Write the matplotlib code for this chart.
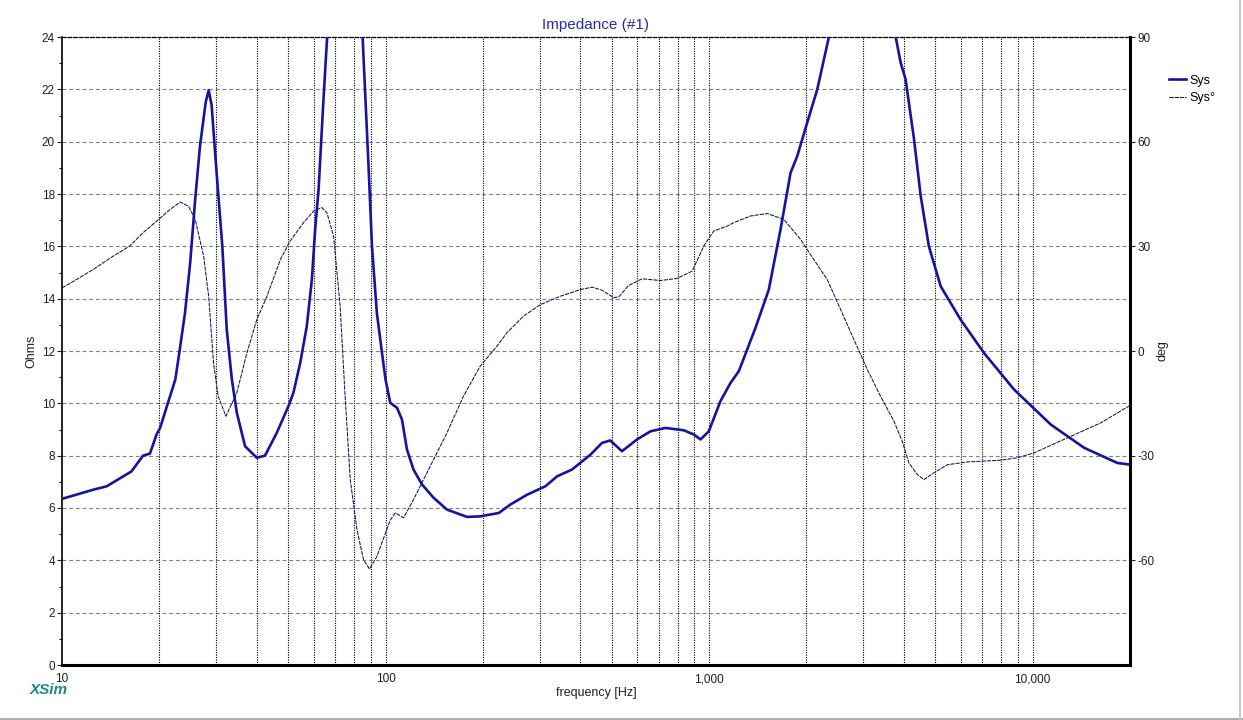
import matplotlib
matplotlib.use("Agg")
import matplotlib.pyplot as plt
from matplotlib.ticker import FixedLocator, NullFormatter, MultipleLocator
from matplotlib.lines import Line2D

plt.rcParams['font.family'] = ['Liberation Sans', 'DejaVu Sans']
plt.rcParams['axes.unicode_minus'] = False

# ---- data ----
imp_freq = [10, 12.5, 13.75, 14.9, 16.4, 17.8, 18.7, 19.6, 20.1, 21.1, 22.4, 23.2, 24.0, 24.9,
            25.8, 26.7, 27.8, 28.4, 29.0, 30.1, 31.3, 32.3, 33.5, 34.7, 36.8, 40, 42.4, 46.1, 50.1, 51.9,
            54.5, 57.1, 59.2, 60.6, 62.1, 64.3, 66, 69, 72, 75, 78, 82, 85.3, 88.6, 90.8, 94,
            97.5, 100, 103.4, 108.5, 112.4, 116.5, 122, 129.6, 140.8, 154.8, 178.6, 196, 224,
            243, 274, 312, 339, 377, 430, 467, 495, 538, 599, 659, 733, 835, 897, 941, 998,
            1084, 1165, 1236, 1392, 1530, 1663, 1786, 1873, 2011, 2160, 2346, 2600, 2900, 3300,
            3640, 3910, 4050, 4300, 4510, 4780, 5200, 5990, 7070, 8760, 11380, 14430, 18290, 20000]
imp_ohms = [6.35, 6.70, 6.83, 7.09, 7.40, 8.0, 8.08, 8.81, 9.06, 9.89, 10.91, 12.18, 13.46, 15.37,
            17.79, 19.83, 21.5, 21.97, 21.4, 18.7, 16.0, 12.82, 10.91, 9.64, 8.36, 7.92, 8.0, 8.87, 9.89, 10.40,
            11.55, 12.95, 14.73, 16.65, 18.18, 21.62, 24.0, 30, 36, 39, 36, 29, 23.5, 19.07, 16.0, 13.46,
            11.93, 10.91, 10.02, 9.83, 9.38, 8.23, 7.47, 6.90, 6.39, 5.94, 5.66, 5.68, 5.81,
            6.13, 6.51, 6.83, 7.21, 7.47, 8.04, 8.49, 8.58, 8.17, 8.62, 8.93, 9.06, 8.97, 8.81, 8.62, 8.93,
            10.08, 10.78, 11.23, 12.89, 14.35, 16.65, 18.81, 19.45, 20.73, 22.0, 24.0, 28, 30, 28,
            25, 23.02, 22.38, 20.09, 17.92, 16.0, 14.47, 13.20, 11.93, 10.53, 9.19, 8.30, 7.72, 7.66]

ph_freq = [10, 11.1, 12.5, 14.4, 16.2, 17.8, 19.6, 21.6, 23.2, 24.6, 25.8, 27.4, 28.4, 29.4, 30.4,
           32.1, 34.7, 37.3, 40, 43, 47.3, 50.7, 55.8, 59.9, 63.6, 65.9, 69.1, 72.4, 75, 77.8,
           81.6, 85.5, 89.2, 94, 103.4, 107.2, 113.7, 122, 137.5, 154.8, 174, 196, 221, 237, 267,
           301, 347, 400, 435, 467, 507, 526, 564, 621, 707, 796, 887, 963, 1034, 1138, 1192,
           1343, 1513, 1703, 1918, 2108, 2318, 2550, 2803, 3083, 3390, 3727, 3955, 4148, 4401,
           4614, 4955, 5450, 6288, 7966, 8974, 10100, 12810, 16240, 20000]
ph_deg = [18.1, 20.5, 23.4, 27.2, 30.1, 33.9, 37.2, 40.6, 42.7, 41.5, 37.7, 27.2, 15.7, -3.4, -13.0,
          -18.7, -12.0, -0.5, 9.0, 15.7, 26.2, 31.5, 36.8, 40.1, 41.1, 39.6, 32.9, 12.8, -13.0, -36.9,
          -51.2, -59.8, -62.5, -58.9, -48.5, -46.4, -47.8, -42.6, -33.0, -23.5, -13.0, -4.4, 1.4, 5.2, 10.0,
          13.3, 15.7, 17.6, 18.3, 17.4, 15.3, 15.5, 18.8, 20.7, 20.2, 20.8, 22.9, 30.1, 34.4, 35.8, 36.8,
          38.7, 39.4, 37.7, 32.0, 26.2, 20.5, 11.9, 3.3, -5.3, -13.0, -20.1, -25.9, -32.1, -35.4,
          -36.9, -34.9, -32.6, -31.8, -31.3, -30.6, -29.2, -24.9, -20.6, -15.6]

x_major = [10, 100, 1000, 10000]
x_major_labels = ["10", "100", "1,000", "10,000"]
x_minor = [m * d for d in (10, 100, 1000) for m in range(2, 10)] + [20000]
ohm_ticks = list(range(0, 25, 2))
deg_ticks = [-60, -30, 0, 30, 60, 90]

title = "Impedance (#1)"
xlabel = "frequency [Hz]"
ylabel_left = "Ohms"
ylabel_right = "deg"
series_names = ["Sys", "Sys\u00b0"]

# ---- figure ----
fig = plt.figure(figsize=(12.43, 7.2), dpi=100)
W, H = 1243, 720
ax = fig.add_axes([62 / W, 1 - 665 / H, (1130 - 62) / W, (665 - 37) / H])
ax2 = ax.twinx()

imp_color = "#1414A0"
ph_color = "#101070"

ax.set_xscale("log")
ax.set_xlim(10, 20000)
ax.set_ylim(0, 24)
ax2.set_ylim(-90, 90)

# grids
for y in ohm_ticks[1:-1]:
    ax.axhline(y, color="#808080", lw=0.8, ls=(0, (3.5, 2.5)), zorder=1)
for x in x_major[1:] + x_minor[:-1]:
    ax.axvline(x, color="black", lw=0.8, ls=(0, (1, 1.2)), zorder=1)

l1, = ax.plot(imp_freq, imp_ohms, color=imp_color, lw=1.9, zorder=3, label=series_names[0])
l2, = ax2.plot(ph_freq, ph_deg, color=ph_color, lw=0.75, ls=(0, (4, 1)), zorder=3,
               label=series_names[1])

# ticks
ax.xaxis.set_major_locator(FixedLocator(x_major))
ax.set_xticklabels(x_major_labels)
ax.xaxis.set_minor_locator(FixedLocator(x_minor))
ax.xaxis.set_minor_formatter(NullFormatter())
ax.tick_params(axis="x", which="both", length=0, labelsize=8.5, pad=6, colors="#202020")
ax.set_yticks(ohm_ticks)
ax.yaxis.set_minor_locator(MultipleLocator(1))
ax.tick_params(axis="y", which="major", length=3.6, width=0.8, labelsize=8.5, colors="#202020", pad=1.5)
ax.tick_params(axis="y", which="minor", length=2.5, width=0.8)
ax2.set_yticks(deg_ticks)
ax2.tick_params(axis="y", which="major", length=3.6, width=0.8, labelsize=8.5, colors="#202020", pad=1.5)

# spines
ax.spines["left"].set_linewidth(1.2)
ax.spines["bottom"].set_linewidth(2.2)
ax.spines["top"].set_linewidth(0.9)
ax.spines["top"].set_linestyle((0, (3, 1.5)))
ax2.spines["right"].set_linewidth(2.2)
ax2.spines["top"].set_visible(False)
ax2.spines["bottom"].set_visible(False)
ax2.spines["left"].set_visible(False)

ax.set_title(title, color="#2828C0", fontsize=11, pad=6)
ax.set_xlabel(xlabel, fontsize=9, color="#202020", labelpad=1)
ax.set_ylabel(ylabel_left, fontsize=9, color="#202020", labelpad=3)
ax2.set_ylabel(ylabel_right, fontsize=9, color="#202020", rotation=90, labelpad=2)

ax.legend(handles=[l1, l2], loc="upper left", bbox_to_anchor=(1.031, 0.95), frameon=False,
          fontsize=9, handlelength=1.3, handletextpad=0.3, labelspacing=0.45, borderpad=0)

fig.text(30 / W, 1 - 690 / H, "XSim", color="#1A8A80", fontsize=11, fontweight="bold",
         fontstyle="italic", va="center", ha="left")

# window border
fig.add_artist(Line2D([0, 1], [1.5 / H, 1.5 / H], color="#A0A0A0", lw=1.2))
fig.add_artist(Line2D([1 - 3 / W, 1 - 3 / W], [0, 1], color="#C0C0C0", lw=1.2))

fig.savefig("out.png", dpi=100)
